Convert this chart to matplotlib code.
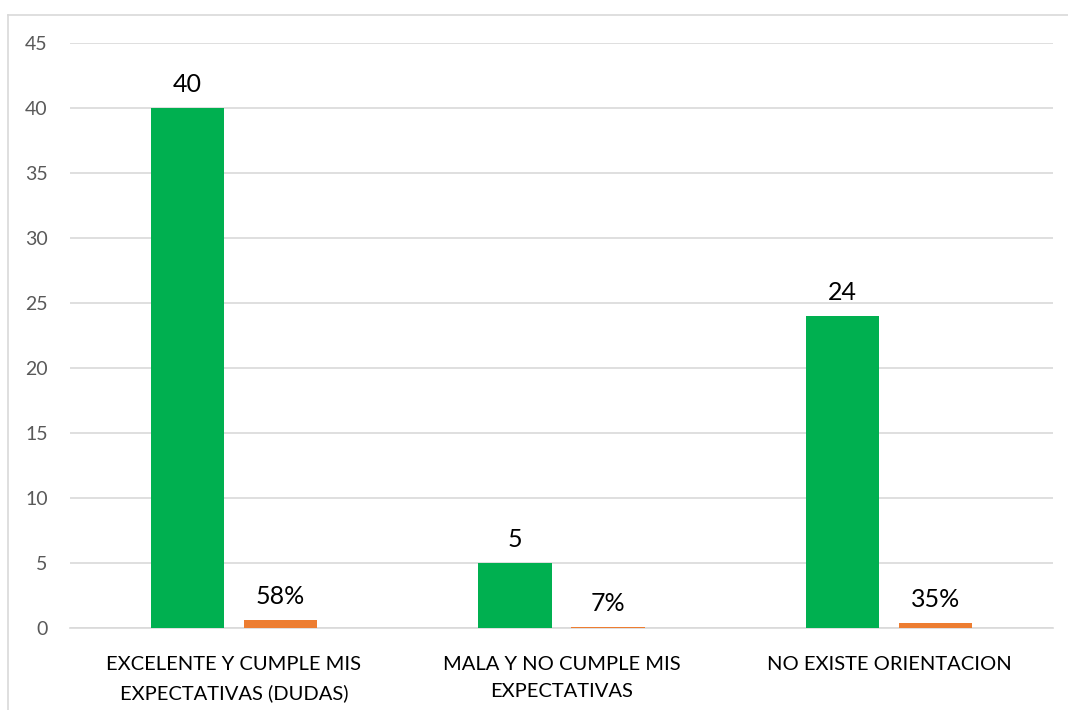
import matplotlib
matplotlib.use("Agg")
import matplotlib.pyplot as plt
import numpy as np
from matplotlib.lines import Line2D

categories = ["EXCELENTE Y CUMPLE MIS\nEXPECTATIVAS (DUDAS)",
              "MALA Y NO CUMPLE MIS\nEXPECTATIVAS",
              "NO EXISTE ORIENTACION"]
counts = [40, 5, 24]
shares = [0.58, 0.07, 0.35]
share_labels = ["58%", "7%", "35%"]
yticks = [0, 5, 10, 15, 20, 25, 30, 35, 40, 45]

plt.rcParams['font.family'] = ['Lato', 'DejaVu Sans']

fig = plt.figure(figsize=(10.68, 7.10), dpi=100)
ax = fig.add_axes([0.0655, 0.1155, 0.9205, 0.8235])

x = np.arange(len(categories))
w = 0.223
off = 0.142
b1 = ax.bar(x - off, counts, w, color="#00B050", zorder=3)
b2 = ax.bar(x + off, shares, w, color="#ED7D31", zorder=3)

for rect, v in zip(b1, counts):
    ax.annotate(str(v), (rect.get_x() + rect.get_width() / 2, rect.get_height()),
                xytext=(0, 9), textcoords="offset points", ha="center", va="bottom",
                fontsize=18, color="black")
for rect, s in zip(b2, share_labels):
    ax.annotate(s, (rect.get_x() + rect.get_width() / 2, rect.get_height()),
                xytext=(0, 9), textcoords="offset points", ha="center", va="bottom",
                fontsize=18, color="black")

ax.set_xlim(-0.5, 2.5)
ax.set_ylim(0, 45)
ax.set_yticks(yticks)
ax.set_xticks(x)
ax.set_xticklabels(categories, fontsize=14.5, color="black", linespacing=1.75)
ax.tick_params(axis="y", labelsize=14, labelcolor="#595959", length=0, pad=16)
ax.tick_params(axis="x", length=0, pad=20)
ax.grid(axis="y", color="#D9D9D9", linewidth=1.2, zorder=0)
for sp in ["top", "right", "left"]:
    ax.spines[sp].set_visible(False)
ax.spines["bottom"].set_color("#D9D9D9")
ax.spines["bottom"].set_linewidth(1.2)

# figure border (left and top visible)
fig.add_artist(Line2D([8/1068, 1.0], [1 - 15/710, 1 - 15/710], transform=fig.transFigure,
                      color="#D9D9D9", linewidth=1.2))
fig.add_artist(Line2D([8/1068, 8/1068], [0, 1 - 15/710], transform=fig.transFigure,
                      color="#D9D9D9", linewidth=1.2))

fig.savefig("out.png", dpi=100)
